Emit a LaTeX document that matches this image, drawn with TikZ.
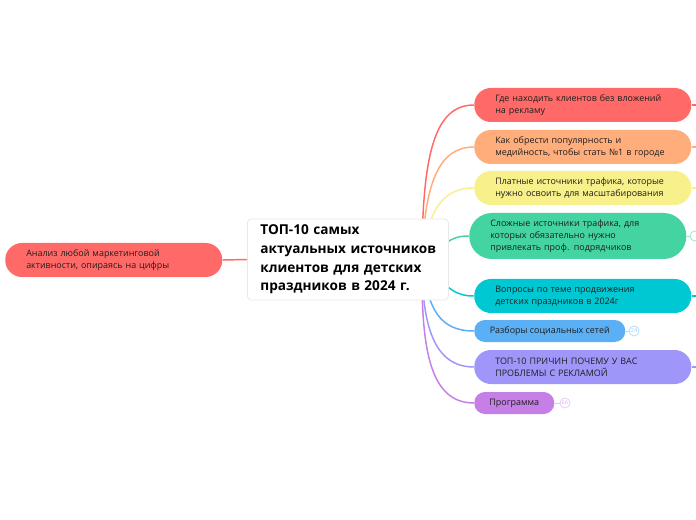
\documentclass[tikz,border=0pt]{standalone}
\usepackage{fontspec}
\setmainfont{Open Sans}
\definecolor{cRed}{HTML}{FF6A68}
\definecolor{cOrg}{HTML}{FFAD7B}
\definecolor{cYel}{HTML}{F8F08A}
\definecolor{cGrn}{HTML}{44D4A2}
\definecolor{cCyn}{HTML}{00C8D2}
\definecolor{cBlu}{HTML}{5BAFF5}
\definecolor{cPur}{HTML}{9F96FA}
\definecolor{cVio}{HTML}{C57FE6}
\definecolor{cTxt}{HTML}{1E1E1E}
\tikzset{
  topic/.style={anchor=west, rounded corners=12.5pt, text=cTxt, align=left,
    font=\fontsize{6.7}{9}\selectfont, inner xsep=15.75pt, inner ysep=0pt,
    text width=131.25pt, minimum height=25.5pt},
  small/.style={anchor=west, rounded corners=8pt, text=cTxt,
    font=\fontsize{6.7}{9}\selectfont, inner xsep=11.25pt, inner ysep=0pt,
    minimum height=16.5pt},
  link/.style={line width=1.1pt},
  badge/.style={circle, draw, line width=0.5pt, fill=white, inner sep=0pt,
    minimum size=7.5pt, font=\fontsize{4}{4}\selectfont},
}
\begin{document}
\begin{tikzpicture}[x=0.75pt,y=-0.75pt]
\useasboundingbox[fill=white] (0,0) rectangle (696,520);
\coordinate (hub) at (422,262);
% connectors behind the central node
\draw[link,cRed] (474,105) .. controls (436,105) and (422,150) .. (hub);
\draw[link,cOrg] (474,147) .. controls (440,147) and (424,180) .. (hub);
\draw[link,cYel] (474,188) .. controls (442,188) and (428,210) .. (hub);
\draw[link,cGrn] (469,236) .. controls (455,236) and (450,238) .. (hub);
\draw[link,cCyn] (474,296) .. controls (458,296) and (450,292) .. (hub);
\draw[link,cBlu] (474,331) .. controls (440,331) and (428,310) .. (hub);
\draw[link,cPur] (474,367) .. controls (436,367) and (422,330) .. (hub);
\draw[link,cVio] (474,403) .. controls (430,403) and (421,350) .. (hub);
% central node
\node[anchor=west, draw=black!9, line width=0.6pt, fill=white, rounded corners=3pt,
  text=black, align=left, font=\fontsize{10.2}{14}\bfseries\selectfont,
  inner xsep=9.75pt, text width=131.25pt, minimum height=60.75pt] (c) at (247,259.5)
  {\mbox{ТОП-10 самых}\\\mbox{актуальных источников}\\\mbox{клиентов для детских}\\\mbox{праздников в 2024 г.}};
% left node
\node[topic, fill=cRed] (L) at (5,260)
  {Анализ любой маркетинговой\\активности, опираясь на цифры};
\draw[link,cRed] (c.west) -- (L.east);
% right nodes
\node[topic, fill=cRed] (n1) at (474,105) {Где находить клиентов без вложений\\на рекламу};
\node[topic, fill=cOrg] (n2) at (474,147) {Как обрести популярность и\\медийность, чтобы стать №1 в городе};
\node[topic, fill=cYel] (n3) at (474,188) {Платные источники трафика, которые\\нужно освоить для масштабирования};
\node[topic, fill=cGrn, minimum height=34.5pt, rounded corners=17pt] (n4) at (469,236)
  {Сложные источники трафика, для\\которых обязательно нужно\\привлекать проф. подрядчиков};
\node[topic, fill=cCyn] (n5) at (474,296) {Вопросы по теме продвижения\\детских праздников в 2024г};
\node[small, fill=cBlu, minimum width=113.25pt] (n6) at (474,331) {Разборы социальных сетей};
\node[topic, fill=cPur] (n7) at (474,367) {ТОП-10 ПРИЧИН ПОЧЕМУ У ВАС\\ПРОБЛЕМЫ С РЕКЛАМОЙ};
\node[small, fill=cVio, minimum width=60pt] (n8) at (474,403) {Программа};
% stubs to hidden children
\coordinate (e1) at (697,105); \coordinate (e2) at (697,147);
\coordinate (e3) at (697,188); \coordinate (e5) at (697,296);
\coordinate (e7) at (697,367);
\draw[link,cRed,line width=0.8pt] (n1.east) -- (e1);
\draw[link,cOrg,line width=0.8pt] (n2.east) -- (e2);
\draw[link,cYel,line width=0.8pt] (n3.east) -- (e3);
\draw[link,cCyn,line width=0.8pt] (n5.east) -- (e5);
\draw[link,cPur,line width=0.8pt] (n7.east) -- (e7);
% collapsed badges
\node[badge, draw=cGrn!60, text=cGrn!60] (b4) at (695,236) {};
\draw[cGrn!60, line width=0.6pt] (n4.east) -- (b4);
\node[badge, draw=cBlu!50, text=cBlu!60] (b6) at (634,331) {24};
\draw[cBlu!50, line width=0.6pt] (n6.east) -- (b6);
\node[badge, draw=cVio!45, text=cVio!60] (b8) at (565,403) {66};
\draw[cVio!45, line width=0.6pt] (n8.east) -- (b8);
\end{tikzpicture}
\end{document}
